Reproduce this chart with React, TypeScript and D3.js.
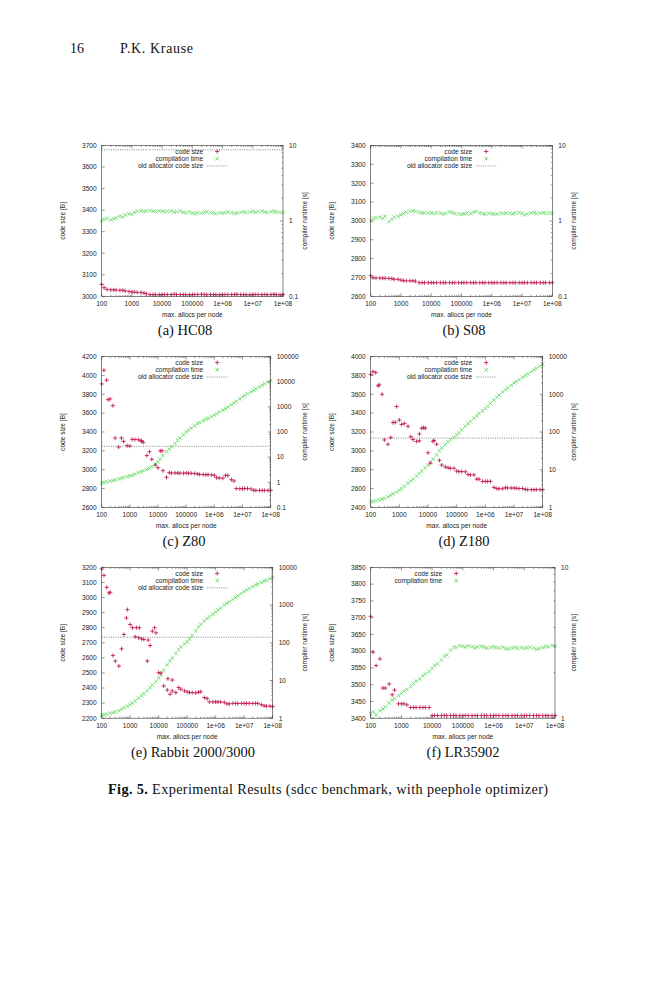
import React from "react";
import * as d3 from "d3";

// max. allocs per node (sample points of the sweep)
const allocs = [
  100, 120, 150, 200, 250, 300, 400, 500, 600, 800,
  1e3, 1.2e3, 1.5e3, 2e3, 2.5e3, 3e3, 4e3, 5e3, 6e3, 8e3,
  1e4, 1.2e4, 1.5e4, 2e4, 2.5e4, 3e4, 4e4, 5e4, 6e4, 8e4,
  1e5, 1.2e5, 1.5e5, 2e5, 2.5e5, 3e5, 4e5, 5e5, 6e5, 8e5,
  1e6, 1.2e6, 1.5e6, 2e6, 2.5e6, 3e6, 4e6, 5e6, 6e6, 8e6,
  1e7, 1.2e7, 1.5e7, 2e7, 2.5e7, 3e7, 4e7, 5e7, 6e7, 8e7,
  1e8,
];

const xTickLabels = ["100", "1000", "10000", "100000", "1e+06", "1e+07", "1e+08"];

// (a) HC08
const hc08Size = [
  3055, 3040, 3032, 3030, 3030, 3029, 3028, 3028, 3025, 3022,
  3020, 3020, 3018, 3018, 3015, 3012, 3008, 3008, 3008, 3008,
  3008, 3008, 3008, 3008, 3010, 3008, 3008, 3008, 3008, 3008,
  3008, 3008, 3008, 3010, 3008, 3008, 3008, 3008, 3008, 3008,
  3008, 3008, 3008, 3008, 3008, 3010, 3008, 3008, 3008, 3008,
  3008, 3008, 3008, 3008, 3008, 3008, 3008, 3010, 3008, 3008,
  3008,
];
const hc08Time = [
  1.0, 1.05, 1.08, 1.03, 1.06, 1.1, 1.16, 1.12, 1.2, 1.24,
  1.22, 1.3, 1.34, 1.36, 1.33, 1.35, 1.37, 1.34, 1.33, 1.36,
  1.35, 1.32, 1.34, 1.36, 1.31, 1.33, 1.35, 1.3, 1.28, 1.31,
  1.27, 1.25, 1.28, 1.26, 1.3, 1.32, 1.29, 1.27, 1.25, 1.28,
  1.26, 1.29, 1.31, 1.28, 1.25, 1.27, 1.3, 1.32, 1.29, 1.31,
  1.34, 1.3, 1.33, 1.35, 1.31, 1.29, 1.32, 1.34, 1.31, 1.3,
  1.29,
];
const hc08Old = 3680;

// (b) S08
const s08Size = [
  2710, 2698, 2697, 2697, 2696, 2696, 2695, 2694, 2690, 2690,
  2686, 2683, 2682, 2682, 2682, 2680, 2672, 2672, 2672, 2672,
  2672, 2672, 2672, 2672, 2672, 2672, 2672, 2672, 2672, 2672,
  2672, 2672, 2672, 2672, 2672, 2672, 2672, 2672, 2672, 2672,
  2672, 2672, 2672, 2672, 2672, 2672, 2672, 2672, 2672, 2672,
  2672, 2672, 2672, 2672, 2672, 2672, 2672, 2672, 2672, 2672,
  2672,
];
const s08Time = [
  1.0, 1.08, 1.1, 1.12, 1.08, 1.15, 0.98, 1.05, 1.12, 1.15,
  1.2, 1.25, 1.3, 1.34, 1.36, 1.33, 1.3, 1.28, 1.27, 1.26,
  1.27, 1.25, 1.28, 1.27, 1.24, 1.26, 1.32, 1.29, 1.25, 1.24,
  1.22, 1.24, 1.26, 1.25, 1.3, 1.33, 1.28, 1.25, 1.24, 1.26,
  1.25, 1.24, 1.23, 1.26, 1.25, 1.27, 1.26, 1.24, 1.28, 1.29,
  1.26, 1.2, 1.24, 1.27, 1.29, 1.25, 1.27, 1.28, 1.26, 1.27,
  1.26,
];
const s08Old = 3396;

// (c) Z80
const z80Size = [
  3910, 4055, 3950, 3750, 3680, 3336, 3240, 3336, 3300, 3255,
  3250, 3322, 3320, 3318, 3310, 3290, 3150, 3190, 3110, 3050,
  3020, 3200, 2990, 2920, 2968, 2965, 2965, 2965, 2963, 2963,
  2965, 2963, 2962, 2960, 2955, 2950, 2948, 2947, 2947, 2945,
  2940, 2915, 2912, 2910, 2940, 2938, 2894, 2880, 2800, 2798,
  2798, 2800, 2800, 2795, 2782, 2780, 2780, 2780, 2780, 2780,
  2780,
];
const z80Time = [
  0.93, 0.98, 1.05, 1.12, 1.17, 1.23, 1.35, 1.45, 1.55, 1.66,
  1.78, 1.9, 2.1, 2.4, 2.6, 2.9, 3.3, 3.6, 4.2, 5.2,
  6.3, 8.3, 11.7, 16.6, 21, 26, 35, 47, 58, 78,
  100, 117, 141, 178, 214, 240, 282, 316, 355, 407,
  468, 525, 617, 741, 851, 977, 1200, 1445, 1660, 2090,
  2510, 2820, 3310, 3980, 4570, 5250, 6310, 7240, 8320, 9770,
  11200,
];
const z80Old = 3248;
const z80Extra = [[168, 3743], [2600, 3300], [14000, 3200]];

// (d) Z180
const z180Size = [
  3810, 3840, 3830, 3700, 3600, 3116, 3070, 3141, 3300, 3470,
  3327, 3280, 3290, 3260, 3150, 3120, 3100, 3180, 3240, 3240,
  2980, 2870, 3100, 3070, 2900, 2850, 2830, 2820, 2815, 2815,
  2785, 2780, 2780, 2778, 2748, 2745, 2745, 2700, 2700, 2676,
  2676, 2676, 2676, 2612, 2600, 2598, 2598, 2610, 2606, 2606,
  2605, 2604, 2600, 2600, 2590, 2588, 2588, 2588, 2588, 2588,
  2588,
];
const z180Time = [
  1.41, 1.45, 1.51, 1.58, 1.66, 1.74, 1.91, 2.09, 2.29, 2.57,
  2.88, 3.16, 3.63, 4.37, 5.01, 5.62, 6.76, 7.94, 9.12, 11.2,
  13.2, 15.5, 19.1, 24.5, 31.6, 38, 45.7, 55, 63, 72,
  83, 95, 115, 141, 166, 191, 234, 269, 309, 363,
  417, 479, 575, 708, 832, 955, 1150, 1320, 1480, 1740,
  2000, 2190, 2450, 2820, 3160, 3470, 3980, 4470, 4900, 5620,
  6310,
];
const z180Old = 3135;
const z180Extra = [[180, 3690], [720, 3303], [5000, 3106], [7000, 3246], [16000, 3110]];

// (e) Rabbit 2000/3000
const rabbitSize = [
  3190, 3147, 3068, 3035, 2616, 2579, 2546, 2660, 2755, 2920,
  2821, 2800, 2740, 2733, 2726, 2722, 2579, 2682, 2777, 2766,
  2502, 2500, 2414, 2387, 2359, 2453, 2370, 2403, 2392, 2381,
  2375, 2370, 2370, 2368, 2372, 2375, 2337, 2330, 2308, 2308,
  2308, 2308, 2308, 2305, 2295, 2295, 2298, 2298, 2298, 2298,
  2298, 2298, 2298, 2298, 2298, 2298, 2290, 2282, 2280, 2280,
  2278,
];
const rabbitTime = [
  1.2, 1.23, 1.29, 1.35, 1.41, 1.48, 1.58, 1.74, 1.91, 2.09,
  2.29, 2.51, 2.88, 3.39, 3.98, 4.47, 5.37, 6.46, 7.59, 9.33,
  11.5, 14.1, 18.6, 25.7, 33.1, 39.8, 52.5, 66, 77.6, 93,
  107, 126, 158, 209, 263, 309, 380, 437, 490, 575,
  661, 741, 832, 1000, 1120, 1230, 1410, 1580, 1780, 2040,
  2290, 2510, 2750, 3090, 3390, 3630, 3980, 4370, 4570, 5010,
  5370,
];
const rabbitOld = 2737;
const rabbitExtra = [
  [180, 3030], [740, 2865], [1650, 2800], [2100, 2800], [4300, 2718],
  [7200, 2800], [21000, 2462], [30000, 2380],
];

// (f) LR35902
const lrSize = [
  3704, 3597, 3557, 3577, 3490, 3490, 3502, 3470, 3484, 3443,
  3443, 3443, 3440, 3432, 3432, 3432, 3432, 3432, 3432, 3432,
  3408, 3408, 3408, 3408, 3408, 3408, 3408, 3408, 3408, 3408,
  3408, 3408, 3408, 3408, 3408, 3408, 3408, 3408, 3408, 3408,
  3408, 3408, 3408, 3408, 3408, 3408, 3408, 3408, 3408, 3408,
  3408, 3408, 3408, 3408, 3408, 3408, 3408, 3408, 3408, 3408,
  3408,
];
const lrTime = [
  1.07, 1.1, 1.05, 1.12, 1.15, 1.19, 1.26, 1.32, 1.35, 1.41,
  1.46, 1.51, 1.55, 1.62, 1.7, 1.76, 1.82, 1.91, 1.97, 2.04,
  2.14, 2.24, 2.29, 2.43, 2.57, 2.63, 2.82, 2.95, 2.95, 3.02,
  3.0, 2.96, 3.02, 2.98, 2.93, 2.97, 3.0, 2.96, 2.92, 2.95,
  2.98, 2.94, 2.92, 2.96, 2.9, 2.88, 2.93, 2.95, 2.91, 2.94,
  2.9, 2.93, 2.96, 2.92, 2.86, 2.9, 2.94, 3.0, 2.97, 3.04,
  3.0,
];

interface PanelSpec {
  caption: string;
  captionX: number;
  col: number;
  row: number;
  right: number;
  sizeDomain: [number, number];
  sizeTicks: number;
  timeDomain: [number, number];
  size: number[];
  time: number[];
  old?: number;
  extra?: number[][];
  keyEnd: number;
}

const colLeft = [101.7, 370.7];
const rowTop = [145.5, 356.6, 567.4];
const plotH = 150.8;

const panels: PanelSpec[] = [
  { caption: "(a) HC08", captionX: 185, col: 0, row: 0, right: 283, sizeDomain: [3000, 3700], sizeTicks: 7, timeDomain: [0.1, 10], size: hc08Size, time: hc08Time, old: hc08Old, keyEnd: 101.5 },
  { caption: "(b) S08", captionX: 464, col: 1, row: 0, right: 552.3, sizeDomain: [2600, 3400], sizeTicks: 8, timeDomain: [0.1, 10], size: s08Size, time: s08Time, old: s08Old, keyEnd: 101.5 },
  { caption: "(c) Z80", captionX: 184, col: 0, row: 1, right: 270.7, sizeDomain: [2600, 4200], sizeTicks: 8, timeDomain: [0.1, 100000], size: z80Size, time: z80Time, old: z80Old, extra: z80Extra, keyEnd: 101.5 },
  { caption: "(d) Z180", captionX: 464, col: 1, row: 1, right: 542.7, sizeDomain: [2400, 4000], sizeTicks: 8, timeDomain: [1, 10000], size: z180Size, time: z180Time, old: z180Old, extra: z180Extra, keyEnd: 101.5 },
  { caption: "(e) Rabbit 2000/3000", captionX: 193, col: 0, row: 2, right: 272.7, sizeDomain: [2200, 3200], sizeTicks: 10, timeDomain: [1, 10000], size: rabbitSize, time: rabbitTime, old: rabbitOld, extra: rabbitExtra, keyEnd: 101.5 },
  { caption: "(f) LR35902", captionX: 463, col: 1, row: 2, right: 555, sizeDomain: [3400, 3850], sizeTicks: 9, timeDomain: [1, 10], size: lrSize, time: lrTime, keyEnd: 71.5 },
];

const SANS = "'Liberation Sans', Arial, Helvetica, sans-serif";
const SERIF = "'Liberation Serif', 'Times New Roman', serif";
const RED = "#c0184c";
const GREEN = "#5fd85f";
const FS = 6.6;

function Plus({ cx, cy, r = 2.1 }: { cx: number; cy: number; r?: number }) {
  return <path d={`M${cx - r},${cy}H${cx + r}M${cx},${cy - r}V${cy + r}`} />;
}

function Cross({ cx, cy, r = 1.8 }: { cx: number; cy: number; r?: number }) {
  return <path d={`M${cx - r},${cy - r}L${cx + r},${cy + r}M${cx - r},${cy + r}L${cx + r},${cy - r}`} />;
}

function Panel({ p }: { p: PanelSpec }) {
  const left = colLeft[p.col];
  const top = rowTop[p.row];
  const bottom = top + plotH;
  const x = d3.scaleLog().domain([100, 1e8]).range([left, p.right]);
  const y = d3.scaleLinear().domain(p.sizeDomain).range([bottom, top]);
  const y2 = d3.scaleLog().domain(p.timeDomain).range([bottom, top]);

  const isDecade = (v: number) => Math.abs(Math.log10(v) - Math.round(Math.log10(v))) < 1e-6;
  const xTicks = x.ticks();
  const y2Ticks = y2.ticks();
  const yTicks = y.ticks(p.sizeTicks);
  const decades = xTicks.filter(isDecade);

  const keyX = left + p.keyEnd;
  const keyY = (i: number) => top + 6 + i * 7.2;
  const keyNames = p.old !== undefined
    ? ["code size", "compilation time", "old allocator code size"]
    : ["code size", "compilation time"];

  return (
    <g>
      {/* data */}
      <g stroke={GREEN} strokeWidth={0.95} opacity={0.85}>
        {allocs.map((a, i) => (
          <Cross key={i} cx={x(a)} cy={y2(p.time[i])} />
        ))}
      </g>
      <g stroke={RED} strokeWidth={0.85}>
        {allocs.map((a, i) => (
          <Plus key={i} cx={x(a)} cy={y(p.size[i])} />
        ))}
        {(p.extra || []).map((d, i) => (
          <Plus key={"e" + i} cx={x(d[0])} cy={y(d[1])} />
        ))}
      </g>
      {p.old !== undefined && (
        <line x1={left} x2={p.right} y1={y(p.old)} y2={y(p.old)} stroke="#555" strokeWidth={0.7} strokeDasharray="1 1.3" />
      )}

      {/* frame */}
      <rect x={left} y={top} width={p.right - left} height={plotH} fill="none" stroke="#333" strokeWidth={0.6} />

      {/* ticks */}
      <g stroke="#333" strokeWidth={0.5}>
        {xTicks.map((t, i) => {
          const len = isDecade(t) ? 3 : 1.5;
          return (
            <g key={i}>
              <line x1={x(t)} x2={x(t)} y1={bottom} y2={bottom - len} />
              <line x1={x(t)} x2={x(t)} y1={top} y2={top + len} />
            </g>
          );
        })}
        {yTicks.map((t, i) => (
          <line key={"y" + i} x1={left} x2={left + 3} y1={y(t)} y2={y(t)} />
        ))}
        {y2Ticks.map((t, i) => {
          const len = isDecade(t) ? 3 : 1.5;
          return <line key={"y2" + i} x1={p.right} x2={p.right - len} y1={y2(t)} y2={y2(t)} />;
        })}
      </g>

      {/* tick labels and axis titles */}
      <g fontFamily={SANS} fontSize={FS} fill="#222">
        {decades.map((t, i) => (
          <text key={i} x={x(t)} y={bottom + 10} textAnchor="middle">{xTickLabels[i]}</text>
        ))}
        {yTicks.map((t, i) => (
          <text key={"y" + i} x={left - 5} y={y(t) + 2.3} textAnchor="end">{t}</text>
        ))}
        {y2Ticks.filter(isDecade).map((t, i) => (
          <text key={"y2" + i} x={p.right + 6} y={y2(t) + 2.3}>{t < 1 ? "0.1" : String(Math.round(t))}</text>
        ))}
        <text x={(left + p.right) / 2} y={bottom + 20.5} textAnchor="middle">max. allocs per node</text>
        <text transform={`translate(${left - 37},${top + plotH / 2}) rotate(-90)`} textAnchor="middle">code size [B]</text>
        <text transform={`translate(${left + 205},${top + plotH / 2}) rotate(-90)`} textAnchor="middle">compiler runtime [s]</text>
      </g>

      {/* key */}
      <g fontFamily={SANS} fontSize={FS} fill="#222">
        {keyNames.map((k, i) => (
          <text key={k} x={keyX} y={keyY(i) + 2.3} textAnchor="end">{k}</text>
        ))}
      </g>
      <g stroke={RED} strokeWidth={0.85}>
        <Plus cx={keyX + 14} cy={keyY(0)} />
      </g>
      <g stroke={GREEN} strokeWidth={0.95}>
        <Cross cx={keyX + 14} cy={keyY(1)} />
      </g>
      {p.old !== undefined && (
        <line x1={keyX + 4} x2={keyX + 25} y1={keyY(2)} y2={keyY(2)} stroke="#555" strokeWidth={0.7} strokeDasharray="1 1.3" />
      )}

      {/* sub caption */}
      <text x={p.captionX} y={bottom + 39} textAnchor="middle" fontFamily={SERIF} fontSize={14.5} fill="#111">
        {p.caption}
      </text>
    </g>
  );
}

export default function App() {
  return (
    <svg width={659} height={1000} style={{ position: "absolute", left: 0, top: 0, background: "#fff" }}>
      <rect x={0} y={0} width={659} height={1000} fill="#fff" />
      <g fontFamily={SERIF} fontSize={14} fill="#111">
        <text x={70} y={52.5}>16</text>
        <text x={120} y={52.5} textLength={73}>P.K. Krause</text>
      </g>
      {panels.map((p, i) => (
        <Panel key={i} p={p} />
      ))}
      <text x={108} y={794} fontFamily={SERIF} fontSize={14.3} fill="#111" textLength={440}>
        <tspan fontWeight="bold">Fig. 5.</tspan> Experimental Results (sdcc benchmark, with peephole optimizer)
      </text>
    </svg>
  );
}
